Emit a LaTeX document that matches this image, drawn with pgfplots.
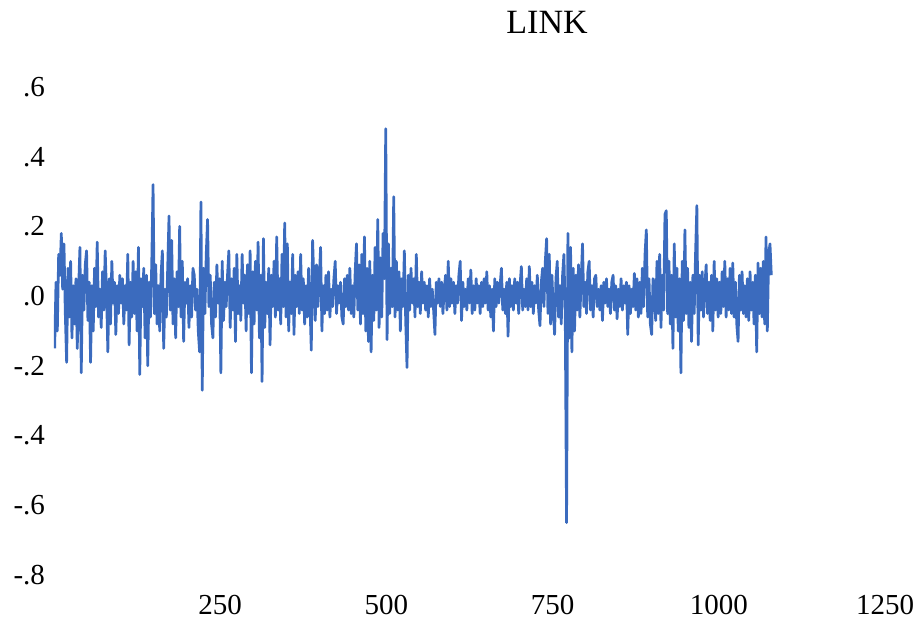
\documentclass[border=0pt]{standalone}
\usepackage{pgfplots}
\pgfplotsset{compat=1.18}
\usepackage{fontspec}
\setmainfont{Liberation Serif}
\definecolor{linkblue}{RGB}{59,107,190}
\begin{document}
\begin{tikzpicture}
\useasboundingbox (-27pt,-22.5pt) rectangle (433pt,287.5pt);
\begin{axis}[
  at={(0,0)}, anchor=south west,
  scale only axis, width=415.5pt, height=244pt,
  xmin=0, xmax=1250, ymin=-0.8, ymax=0.6,
  axis line style={draw=none}, tick style={draw=none},
  major tick length=0pt,
  xtick={250,500,750,1000,1250},
  xticklabels={250,500,750,1000,1250},
  ytick={-0.8,-0.6,-0.4,-0.2,0,0.2,0.4,0.6},
  yticklabels={-.8,-.6,-.4,-.2,.0,.2,.4,.6},
  tick label style={font=\fontsize{14.5}{16}\selectfont},
  xticklabel style={anchor=center, yshift=-15pt},
  yticklabel style={anchor=east, xshift=-1pt},
]
\addplot[color=linkblue, line width=1.35pt, mark=none, line join=round] table[x expr=\coordindex*2+1, y index=0, header=false] {
-0.15
0.04
-0.10
0.12
0.06
0.18
0.02
0.15
-0.05
-0.19
0.08
-0.06
0.10
-0.12
0.03
-0.08
0.05
-0.15
0.02
0.14
-0.22
0.06
-0.04
0.09
0.13
-0.07
0.04
-0.19
0.03
-0.10
0.08
-0.03
0.155
-0.06
0.02
-0.09
0.07
-0.04
0.13
0.01
-0.16
0.05
-0.08
0.10
-0.02
0.04
-0.11
0.03
-0.05
0.06
-0.02
0.05
-0.08
0.03
-0.04
0.12
-0.14
0.04
-0.06
0.10
-0.05
0.07
-0.10
0.14
-0.225
0.05
-0.03
0.08
-0.12
0.06
-0.20
0.04
-0.06
0.09
0.32
-0.05
0.09
-0.08
0.03
-0.10
0.06
0.13
-0.15
0.02
-0.06
0.08
0.23
-0.04
0.16
-0.08
0.05
-0.12
0.07
-0.03
0.20
-0.06
0.10
-0.13
0.04
-0.02
0.05
-0.09
0.03
-0.06
0.08
0.06
-0.04
0.02
-0.10
-0.16
0.27
-0.27
0.08
-0.05
0.12
0.22
-0.03
0.06
-0.08
-0.12
0.04
-0.06
0.09
-0.02
0.05
-0.22
0.10
-0.07
0.04
-0.03
0.06
0.13
-0.09
0.05
-0.04
0.08
-0.13
0.12
-0.05
0.03
-0.07
0.12
-0.02
0.06
-0.10
0.09
-0.05
0.13
-0.22
0.07
-0.08
0.10
-0.04
0.155
-0.12
0.06
-0.245
0.165
-0.09
0.04
-0.05
0.08
-0.14
0.06
-0.03
0.10
-0.06
0.17
-0.04
0.05
-0.08
0.12
-0.03
0.21
-0.06
0.15
-0.10
0.04
-0.05
0.12
-0.11
0.06
-0.03
0.07
-0.05
0.12
-0.04
0.05
-0.08
0.03
-0.06
0.08
-0.02
-0.155
0.16
0.04
-0.07
0.09
-0.03
0.05
0.14
-0.10
0.03
-0.05
0.06
-0.04
0.07
-0.06
0.02
-0.03
0.05
0.10
-0.05
0.03
-0.02
0.04
-0.06
-0.08
0.05
-0.03
0.06
-0.04
0.08
-0.05
0.03
-0.06
0.07
0.15
-0.04
0.09
-0.08
0.12
-0.05
0.17
-0.10
0.08
-0.13
0.10
-0.16
0.06
-0.07
0.14
-0.04
0.22
-0.09
0.11
-0.06
0.18
0.05
0.48
-0.125
0.15
-0.05
0.08
-0.03
0.285
-0.06
0.10
-0.04
0.07
-0.10
0.05
-0.03
0.13
-0.07
-0.205
0.06
-0.04
0.08
-0.02
0.05
-0.06
0.12
-0.03
0.04
-0.05
0.07
-0.02
0.04
-0.04
0.03
-0.06
0.05
-0.03
0.02
-0.04
-0.11
0.04
-0.02
0.05
-0.03
0.04
-0.05
0.02
0.06
-0.04
0.10
-0.03
0.05
-0.02
0.04
-0.05
0.03
-0.02
0.06
0.10
-0.07
0.04
-0.03
0.02
-0.04
0.05
-0.02
0.075
-0.05
0.03
-0.04
0.05
-0.02
0.03
-0.05
0.04
-0.03
0.05
-0.02
0.07
-0.04
0.03
-0.06
0.02
-0.10
0.05
-0.03
0.04
-0.02
0.03
0.08
-0.04
0.02
-0.05
0.04
-0.115
0.05
-0.03
0.03
-0.04
0.05
-0.02
0.04
-0.05
0.03
0.085
-0.04
0.02
-0.03
0.05
-0.04
0.085
-0.03
0.04
-0.05
0.03
-0.02
0.06
-0.04
-0.085
0.04
0.08
-0.03
0.10
0.165
-0.05
0.12
-0.08
0.06
-0.04
-0.11
0.05
0.10
-0.06
0.03
-0.08
0.06
0.12
-0.05
-0.65
0.18
-0.12
0.14
-0.16
0.08
-0.10
0.06
-0.04
0.09
-0.06
0.05
0.15
-0.03
0.04
-0.05
0.07
0.10
-0.04
0.03
-0.06
0.05
0.06
-0.03
0.02
-0.04
0.03
-0.07
0.04
-0.02
0.05
-0.03
0.02
-0.05
0.04
0.06
-0.04
0.03
-0.065
0.02
-0.03
0.05
-0.04
0.03
-0.02
0.04
-0.11
0.03
-0.05
0.02
-0.03
0.065
-0.04
0.05
-0.06
0.04
-0.05
0.08
-0.03
0.12
0.19
-0.06
0.05
-0.08
-0.11
0.05
0.04
-0.07
0.10
-0.05
0.12
-0.09
0.06
-0.04
0.235
0.245
-0.05
0.10
-0.08
0.06
-0.15
0.15
-0.06
0.08
-0.10
0.05
-0.22
0.10
-0.07
0.19
-0.05
0.08
-0.09
0.04
-0.13
0.06
-0.05
0.12
0.26
-0.14
0.06
-0.04
0.07
-0.06
0.03
0.09
-0.05
0.04
-0.07
0.06
-0.10
0.10
-0.04
0.05
-0.06
0.04
-0.05
0.07
-0.03
0.10
-0.06
0.05
-0.04
0.08
-0.05
0.095
-0.06
0.04
-0.08
-0.13
0.06
-0.04
0.07
-0.05
0.03
-0.06
0.05
-0.07
0.07
-0.04
0.04
-0.08
0.06
-0.16
0.095
-0.05
0.08
-0.06
0.10
-0.08
0.17
-0.10
0.12
0.15
0.06
};
\end{axis}
\node[font=\fontsize{17}{20}\selectfont] at (246.5pt,276.5pt) {LINK};
\end{tikzpicture}
\end{document}
